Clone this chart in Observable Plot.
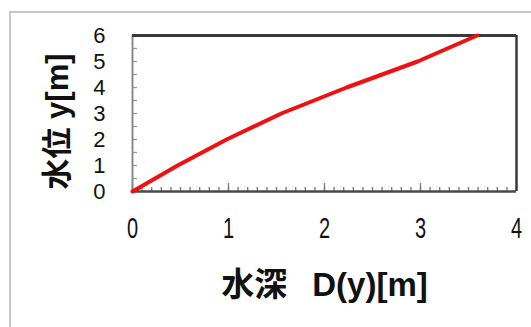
<!DOCTYPE html>
<html>
<head>
<meta charset="utf-8">
<script src="https://cdn.jsdelivr.net/npm/d3@7"></script>
<script src="https://cdn.jsdelivr.net/npm/@observablehq/plot@0.6"></script>
<style>
  html, body { margin: 0; padding: 0; background: #fff; overflow: hidden; }
  #chart { width: 531px; height: 327px; }
</style>
</head>
<body>
<div id="chart"></div>
<script>
// Data
const waterLevel = [0, 1, 2, 3, 4, 5, 6];                  // 水位 y [m]
const waterDepth = [0, 0.47, 0.98, 1.55, 2.23, 2.97, 3.59]; // 水深 D(y) [m]
const xTicks = [0, 1, 2, 3, 4];
const yTicks = [0, 1, 2, 3, 4, 5, 6];
const xMinorTicks = d3.range(0, 41).map(i => i / 10);
const xMajorTicks = [0, 1, 2, 3, 4];
const yMinorTicks = d3.range(0, 13).map(i => i / 2);
const xLabel = "水深\u00a0\u00a0\u2009D(y)[m]";
const yLabel = "水位 y[m]";

const data = waterLevel.map((y, i) => ({y, d: waterDepth[i]}));
const FONT = "'Liberation Sans', Arial, 'Noto Sans CJK JP', sans-serif";

const plot = Plot.plot({
  width: 531,
  height: 327,
  marginLeft: 132,
  marginRight: 15,
  marginTop: 35,
  marginBottom: 136,
  style: {fontFamily: FONT, background: "transparent", overflow: "visible"},
  x: {domain: [0, 4]},
  y: {domain: [0, 6]},
  marks: [
    // minor ticks along bottom axis (inward)
    Plot.axisX(xMinorTicks, {tickSize: -4, text: null, label: null, stroke: "#777", strokeWidth: 1.3}),
    Plot.axisX(xMajorTicks, {tickSize: -8, text: null, label: null, stroke: "#777", strokeWidth: 1.3}),
    // minor ticks along left axis (inward)
    Plot.axisY(yMinorTicks, {tickSize: -5, text: null, label: null, stroke: "#999", strokeWidth: 1.3}),
    // tick labels
    Plot.text(yTicks, {y: d => d, frameAnchor: "left", dx: -27, fontSize: 22, fill: "#111",
      textAnchor: "end", lineAnchor: "middle", className: "yticklbl"}),
    Plot.text(xTicks, {x: d => d, frameAnchor: "bottom", dy: 37, fontSize: 20, fill: "#111",
      lineAnchor: "middle", className: "xticklbl"}),
    // frame lines
    Plot.ruleX([0], {stroke: "#8a8a8a", strokeWidth: 2}),
    Plot.ruleX([4], {stroke: "#3a3a3a", strokeWidth: 2.5}),
    Plot.ruleY([6], {stroke: "#3a3a3a", strokeWidth: 3}),
    Plot.ruleY([0], {stroke: "#4a4a4a", strokeWidth: 2.5}),
    // data line
    Plot.line(data, {x: "d", y: "y", stroke: "#f01010", strokeWidth: 4, strokeLinecap: "round"}),
    // axis titles
    Plot.text([xLabel], {frameAnchor: "bottom", dy: 94, fontSize: 33, fontWeight: "bold",
      fill: "#111", lineAnchor: "middle", textAnchor: "middle"}),
    Plot.text([yLabel], {frameAnchor: "left", dx: -74, dy: 8, rotate: -90, fontSize: 31,
      fontWeight: "bold", fill: "#111", lineAnchor: "middle", textAnchor: "middle"})
  ]
});

const svg = d3.select(plot);
// vertically stretched x tick labels, as in the reference
svg.selectAll(".xticklbl text").each(function() {
  const t = this.getAttribute("transform") || "";
  this.setAttribute("transform", t + " scale(1,1.45)");
});
// outer light-gray border (top and left) of the figure
svg.insert("path", ":first-child")
  .attr("d", "M10,330V12H535")
  .attr("fill", "none")
  .attr("stroke", "#c8c8c8")
  .attr("stroke-width", 2);

document.getElementById("chart").appendChild(plot);
</script>
</body>
</html>
